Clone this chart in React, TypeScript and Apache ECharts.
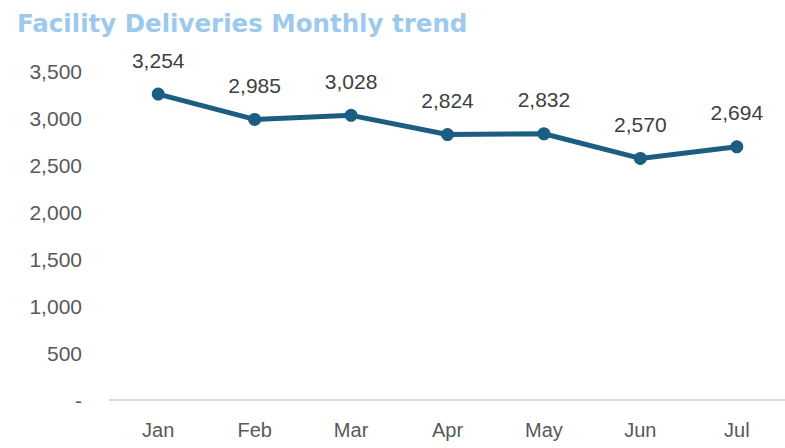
import React, { useEffect, useRef } from "react";
import * as echarts from "echarts";

const months = ["Jan", "Feb", "Mar", "Apr", "May", "Jun", "Jul"];
const deliveries = [3254, 2985, 3028, 2824, 2832, 2570, 2694];
const titleText = "Facility Deliveries Monthly trend";

const fmt = (v: number) => (v === 0 ? "-" : v.toLocaleString("en-US"));

export default function App() {
  const ref = useRef<HTMLDivElement>(null);
  useEffect(() => {
    if (!ref.current) return;
    const chart = echarts.init(ref.current, undefined, { renderer: "svg" });
    chart.setOption({
      animation: false,
      backgroundColor: "#ffffff",
      title: {
        text: titleText,
        left: 12,
        top: 6,
        textStyle: {
          fontFamily: "DejaVu Sans",
          fontWeight: "bold",
          fontSize: 24.5,
          color: "#9DC9EC",
        },
      },
      grid: { left: 110, right: -4, top: 71, bottom: 48 },
      xAxis: {
        type: "category",
        data: months,
        axisLine: { show: true, lineStyle: { color: "#D9D9D9", width: 2 } },
        axisTick: { show: false },
        axisLabel: {
          margin: 20,
          fontFamily: "Liberation Sans",
          fontSize: 20,
          color: "#595959",
        },
      },
      yAxis: {
        type: "value",
        min: 0,
        max: 3500,
        interval: 500,
        axisLine: { show: false },
        axisTick: { show: false },
        splitLine: { show: false },
        axisLabel: {
          margin: 28,
          fontFamily: "Liberation Sans",
          fontSize: 21,
          color: "#595959",
          formatter: (v: number) => fmt(v),
        },
      },
      series: [
        {
          type: "line",
          data: deliveries,
          symbol: "circle",
          symbolSize: 13,
          lineStyle: { color: "#1B5E82", width: 5 },
          itemStyle: { color: "#1B5E82" },
          label: {
            show: true,
            position: "top",
            distance: 17,
            fontFamily: "Liberation Sans",
            fontSize: 21,
            color: "#404040",
            formatter: (p: any) => fmt(p.value),
          },
        },
      ],
    });
    return () => chart.dispose();
  }, []);
  return (
    <div
      ref={ref}
      style={{ position: "absolute", left: 0, top: 0, width: 785, height: 448 }}
    />
  );
}
